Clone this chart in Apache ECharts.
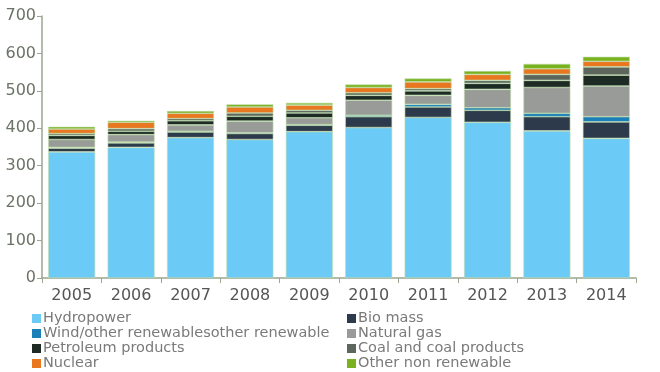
<!DOCTYPE html>
<html><head><meta charset="utf-8">
<script src="https://cdn.jsdelivr.net/npm/echarts@6/dist/echarts.min.js"></script>
<style>html,body{margin:0;padding:0;background:#fff}#c{width:660px;height:372px}</style>
</head><body><div id="c"></div>
<script>
const years = ['2005','2006','2007','2008','2009','2010','2011','2012','2013','2014'];
const hydropower = [337,349,375,370,391,402,429,416,393,373];
const bioMass    = [10,12,15,16,17,29,28,32,38,44];
const wind       = [2,2,2,2,2,4,7,7,9,14];
const naturalGas = [21,20,17,31,18,40,24,49,69,82];
const petroleum  = [11,9,11,13,13,13,12,16,19,29];
const coal       = [5,7,6,9,7,7,6,8,16,22];
const nuclear    = [12,17,14,16,14,14,18,16,15,15];
const otherNon   = [6,4,6,7,6,8,9,9,13,12];
const yTicks = [0,100,200,300,400,500,600,700];

const names = ['Hydropower','Bio mass','Wind/other renewablesother renewable','Natural gas','Petroleum products','Coal and coal products','Nuclear','Other non renewable'];
const colors = ['#6ccaf6','#2c3a4c','#1b80b8','#999b98','#1d2b24','#5d665c','#e8771f','#79b21c'];
const datas = [hydropower,bioMass,wind,naturalGas,petroleum,coal,nuclear,otherNon];

const series = names.map((n,i)=>({
  name:n, type:'bar', stack:'total', data:datas[i], barWidth:'79%',
  itemStyle:{color:colors[i], borderColor:'#bcdcaa', borderWidth:0.6}
}));

const legendCommon = {orient:'vertical', itemWidth:9, itemHeight:9, itemGap:0, icon:'rect',
  padding:0, height:70, itemStyle:{borderWidth:0},
  textStyle:{fontFamily:'DejaVu Sans', fontSize:14.5, color:'#7a7a7a', padding:[0,0,0,-3]}};

const chart = echarts.init(document.getElementById('c'));
chart.setOption({
  animation:false,
  color:colors,
  grid:{left:42, right:24, top:16, bottom:94},
  legend:[
    Object.assign({left:32, top:311, data:[names[0],names[2],names[4],names[6]]}, legendCommon),
    Object.assign({left:347, top:311, data:[names[1],names[3],names[5],names[7]]}, legendCommon)
  ],
  xAxis:{type:'category', data:years,
    axisLine:{lineStyle:{color:'#9aa592', width:1.5}},
    axisTick:{show:true, length:5, lineStyle:{color:'#9aa592'}},
    axisLabel:{fontFamily:'DejaVu Sans', fontSize:16, color:'#555', margin:10}},
  yAxis:{type:'value', min:0, max:700, interval:100,
    axisLine:{show:true, lineStyle:{color:'#9aa592', width:1.5}},
    axisTick:{show:true, length:5, lineStyle:{color:'#9aa592'}},
    splitLine:{show:false},
    axisLabel:{fontFamily:'DejaVu Sans', fontSize:16, color:'#6b7366', margin:6,
      formatter:v=>yTicks.includes(v)?String(v):''}},
  series:series
});
</script></body></html>
